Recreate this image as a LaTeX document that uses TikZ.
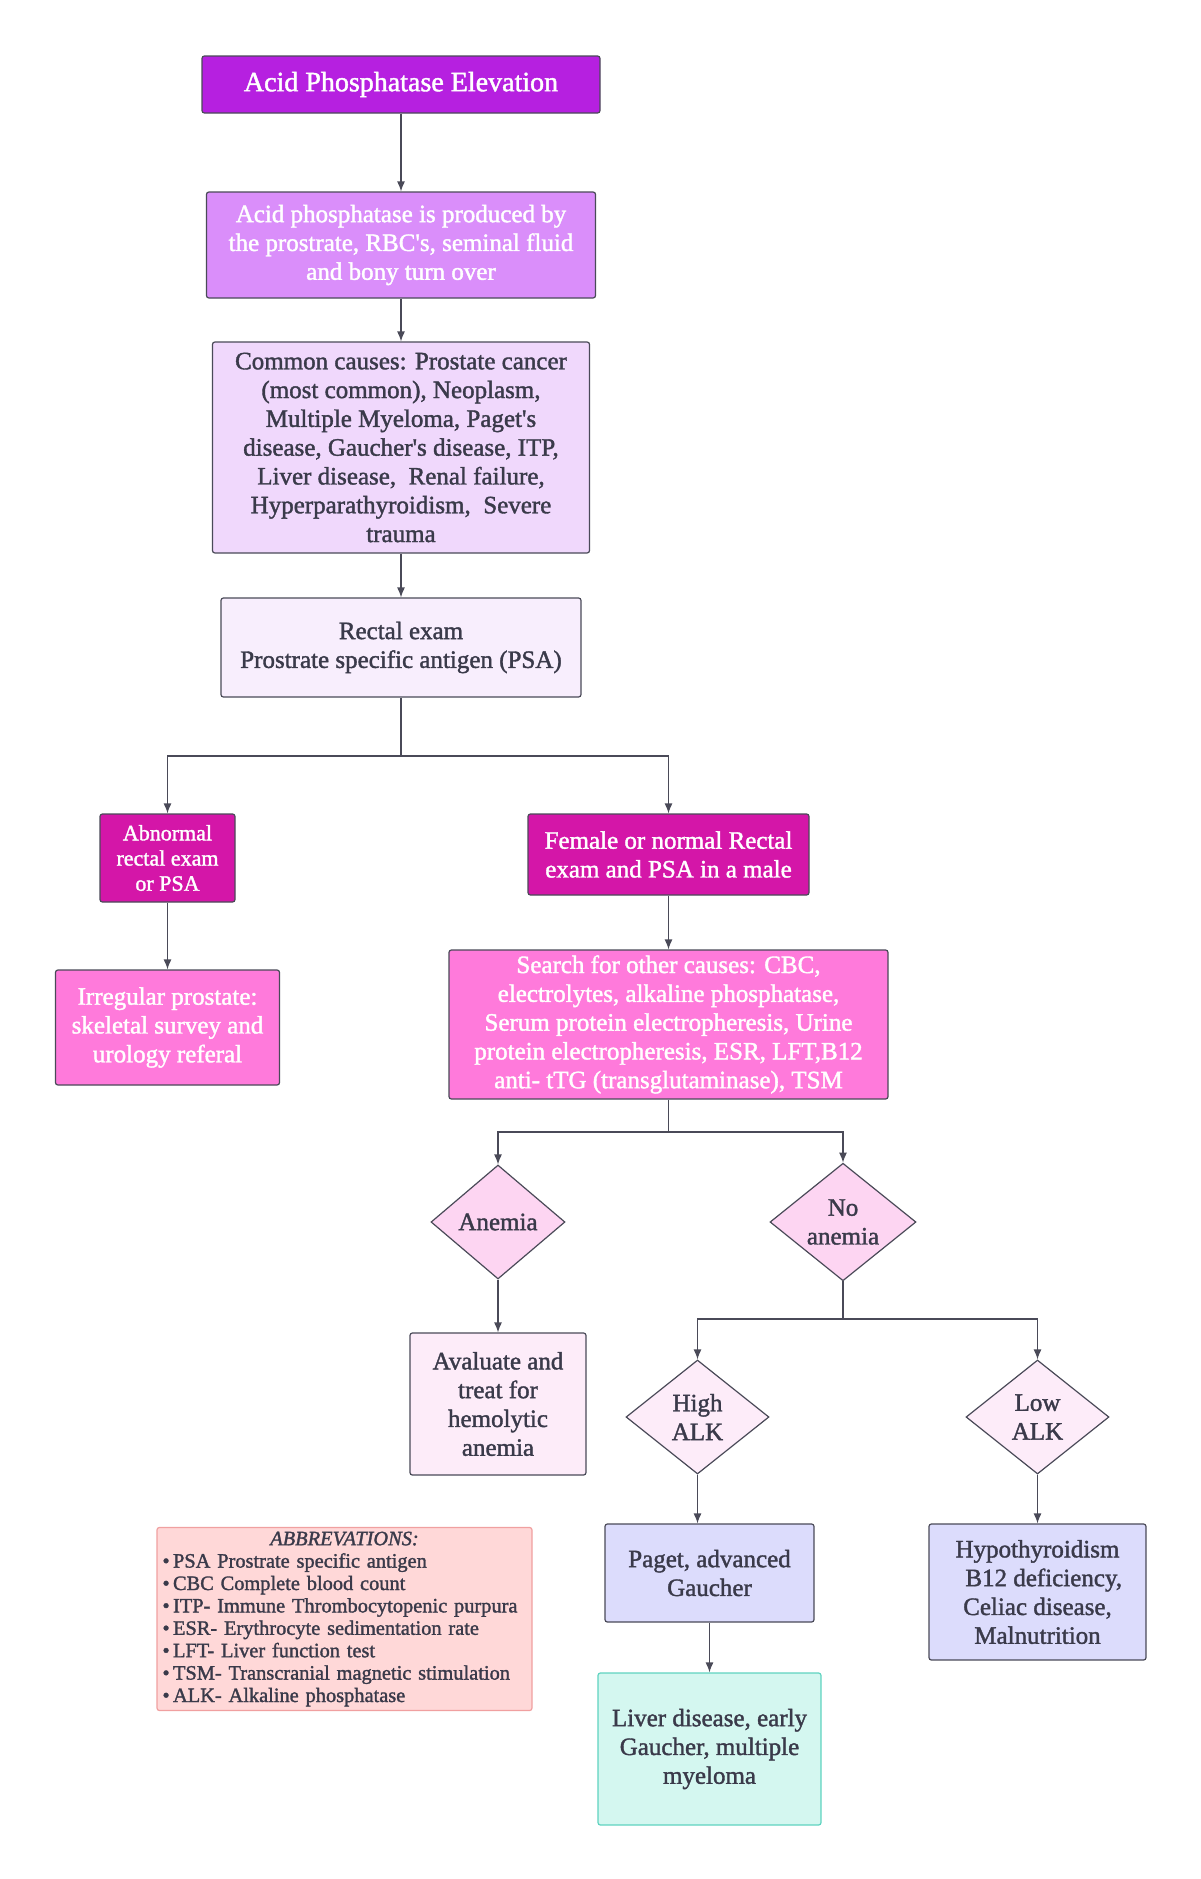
\documentclass[tikz,border=0pt]{standalone}
\usepackage{fontspec}
\setmainfont{Liberation Serif}[FakeBold=1.5]
\usetikzlibrary{shapes.geometric,arrows.meta}

\definecolor{titlepurple}{RGB}{182,32,224}
\definecolor{srcpurple}{RGB}{218,142,250}
\definecolor{causelav}{RGB}{240,216,252}
\definecolor{examlav}{RGB}{248,238,253}
\definecolor{magentabox}{RGB}{212,22,168}
\definecolor{pinkbox}{RGB}{255,122,219}
\definecolor{pinkdiam}{RGB}{253,213,242}
\definecolor{palepink}{RGB}{253,236,249}
\definecolor{bluelav}{RGB}{220,220,252}
\definecolor{mint}{RGB}{212,247,240}
\definecolor{mintedge}{RGB}{95,211,192}
\definecolor{abbrfill}{RGB}{255,216,216}
\definecolor{abbredge}{RGB}{240,160,160}
\definecolor{edgegray}{RGB}{74,74,88}
\definecolor{txtdark}{RGB}{58,58,74}

\tikzset{every picture/.style={line width=0.6pt},
  box/.style={draw=edgegray, rounded corners=1.2pt, align=center, inner sep=0pt,
    text=txtdark, font=\fontsize{12.5}{14.4}\selectfont},
  wbox/.style={box, text=white},
  diam/.style={diamond, draw=edgegray, align=center, inner sep=0pt,
    text=txtdark, font=\fontsize{12.5}{14.4}\selectfont},
  arr/.style={draw=edgegray, -{Latex[length=5pt,width=4pt]}}
}
\newcommand{\apos}{\textquotesingle}

\begin{document}
\begin{tikzpicture}[x=0.5pt,y=0.5pt,yscale=-1,xscale=1]
\useasboundingbox (0,0) rectangle (1200,1879);

% Top column
\node [wbox, fill=titlepurple, minimum width=199pt, minimum height=28.5pt, font=\fontsize{14}{16}\selectfont] (title) at (401,84.5) {Acid Phosphatase Elevation};
\node [wbox, fill=srcpurple, minimum width=194.5pt, minimum height=53pt] (src) at (401,245) {Acid phosphatase is produced by\\the prostrate, RBC\apos s, seminal fluid\\and bony turn over};
\node [box, fill=causelav, minimum width=188.5pt, minimum height=105.5pt] (causes) at (401,447.5) {Common causes: Prostate cancer\\(most common), Neoplasm,\\Multiple Myeloma, Paget\apos s\\disease, Gaucher\apos s disease, ITP,\\Liver disease,\ \ Renal failure,\\Hyperparathyroidism,\ \ Severe\\trauma};
\node [box, fill=examlav, minimum width=180pt, minimum height=49.5pt] (exam) at (401,647.5) {Rectal exam\\Prostrate specific antigen (PSA)};

% Exam result branches
\node [wbox, fill=magentabox, minimum width=67.5pt, minimum height=44pt, font=\fontsize{11}{12.6}\selectfont] (abn) at (167.5,858) {Abnormal\\rectal exam\\or PSA};
\node [wbox, fill=magentabox, minimum width=140.5pt, minimum height=40.5pt] (fem) at (668.5,854.5) {Female or normal Rectal\\exam and PSA in a male};
\node [wbox, fill=pinkbox, minimum width=112pt, minimum height=57.5pt] (irr) at (167.5,1027.5) {Irregular prostate:\\skeletal survey and\\urology referal};
\node [wbox, fill=pinkbox, minimum width=219.5pt, minimum height=74.5pt] (search) at (668.5,1024.5) {Search for other causes: CBC,\\electrolytes, alkaline phosphatase,\\Serum protein electropheresis, Urine\\protein electropheresis, ESR, LFT,B12\\anti- tTG (transglutaminase), TSM};

% Anemia decisions
\node [diam, fill=pinkdiam, minimum width=67pt, minimum height=57pt] (anemia) at (498,1222) {Anemia};
\node [diam, fill=pinkdiam, minimum width=73pt, minimum height=57.5pt] (noanemia) at (843,1222) {No\\anemia};
\node [box, fill=palepink, minimum width=88pt, minimum height=71pt] (evaluate) at (498,1404) {Avaluate and\\treat for\\hemolytic\\anemia};

% ALK decisions
\node [diam, fill=palepink, minimum width=71.5pt, minimum height=57pt] (highalk) at (697.5,1417) {High\\ALK};
\node [diam, fill=palepink, minimum width=71.5pt, minimum height=57pt] (lowalk) at (1037.5,1417) {Low\\ALK};
\node [box, fill=bluelav, minimum width=104.5pt, minimum height=49pt] (paget) at (709.5,1573) {Paget, advanced\\Gaucher};
\node [box, fill=bluelav, minimum width=108.5pt, minimum height=68pt] (hypo) at (1037.5,1592) {Hypothyroidism\\\ \ B12 deficiency,\\Celiac disease,\\Malnutrition};
\node [box, draw=mintedge, fill=mint, minimum width=111.5pt, minimum height=76pt] (liver) at (709.5,1749) {Liver disease, early\\Gaucher, multiple\\myeloma};

% Abbreviations
\node [box, draw=abbredge, fill=abbrfill, minimum width=187.5pt, minimum height=91.5pt, text width=182pt, align=left, font=\fontsize{10.2}{11.2}\selectfont] (abbr) at (344.5,1619) {\centering\textit{ABBREVATIONS:}\par\raggedright
\textbullet\,PSA Prostrate specific antigen\\
\textbullet\,CBC Complete blood count\\
\textbullet\,ITP- Immune Thrombocytopenic purpura\\
\textbullet\,ESR- Erythrocyte sedimentation rate\\
\textbullet\,LFT- Liver function test\\
\textbullet\,TSM- Transcranial magnetic stimulation\\
\textbullet\,ALK- Alkaline phosphatase};

% Split points
\coordinate (split1) at (401,756);
\coordinate (split2) at (668.5,1132);
\coordinate (split3) at (843,1319);

% Connectors
\draw [arr] (title) -- (src);
\draw [arr] (src) -- (causes);
\draw [arr] (causes) -- (exam);
\draw [draw=edgegray] (exam) -- (split1);
\draw [arr] (split1) -| (abn);
\draw [arr] (split1) -| (fem);
\draw [arr] (abn) -- (irr);
\draw [arr] (fem) -- (search);
\draw [draw=edgegray] (search) -- (split2);
\draw [arr] (split2) -| (anemia);
\draw [arr] (split2) -| (noanemia);
\draw [arr] (anemia) -- (evaluate);
\draw [draw=edgegray] (noanemia) -- (split3);
\draw [arr] (split3) -| (highalk);
\draw [arr] (split3) -| (lowalk);
\draw [arr] (highalk) -- (highalk |- paget.north);
\draw [arr] (lowalk) -- (hypo);
\draw [arr] (paget) -- (liver);
\end{tikzpicture}
\end{document}
